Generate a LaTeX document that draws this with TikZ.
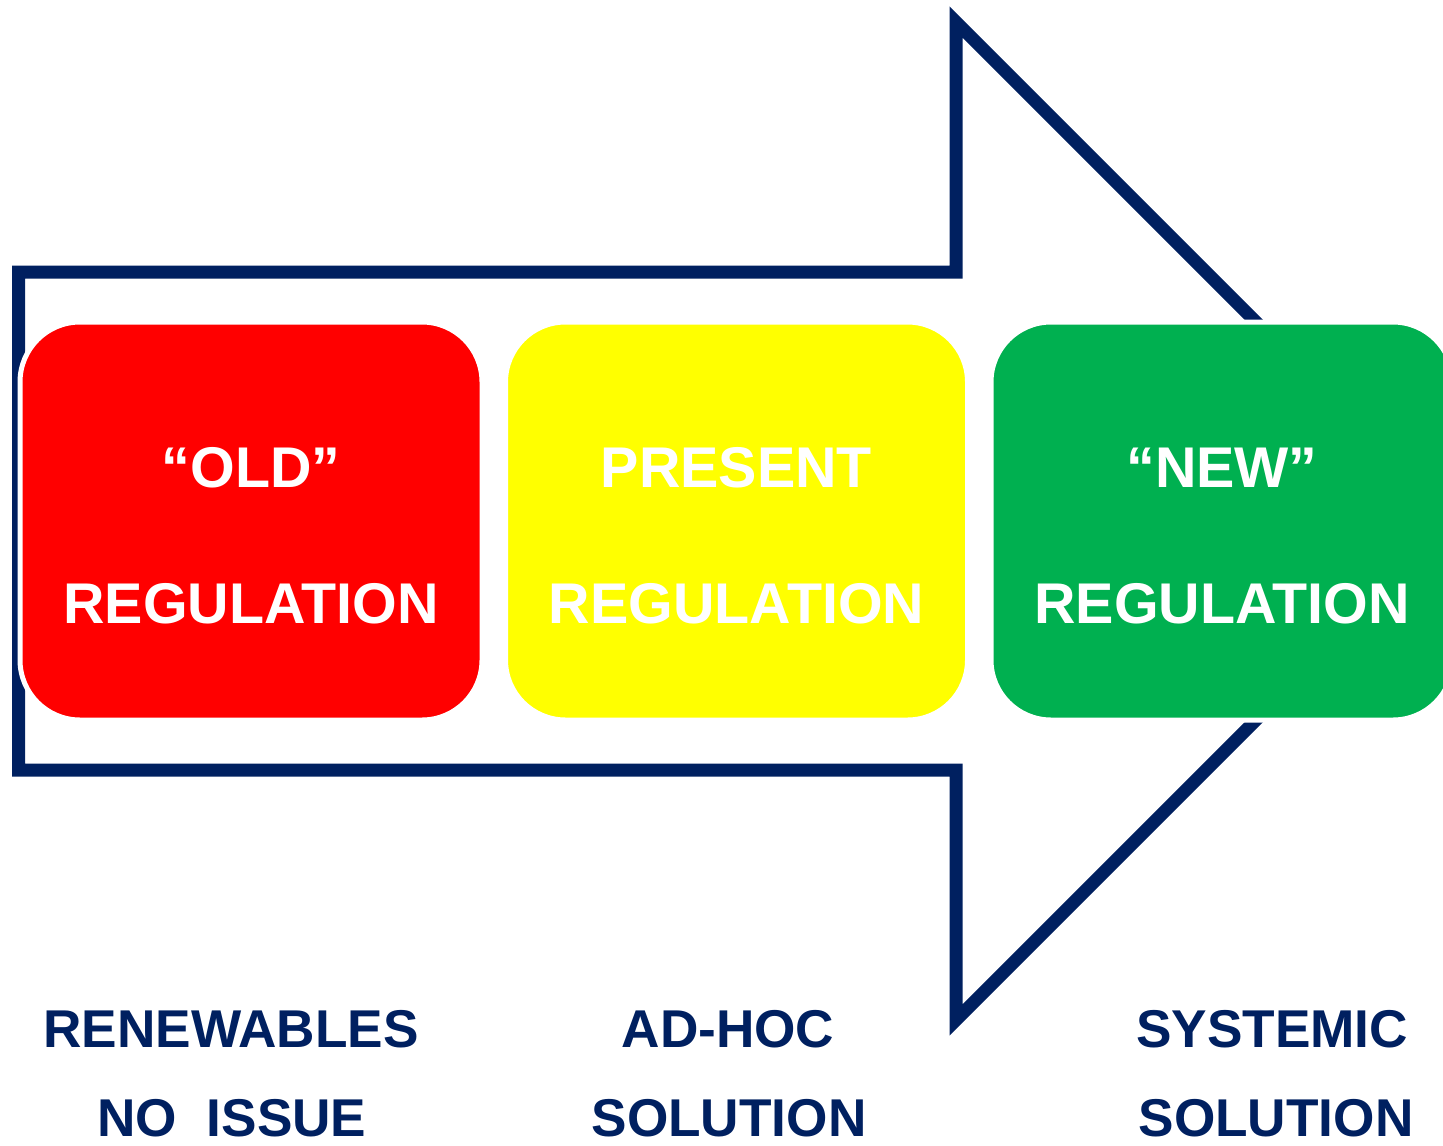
\documentclass[tikz,border=0pt]{standalone}
\usepackage{fontspec}
\setmainfont{Liberation Sans}
\definecolor{navy}{HTML}{002060}
\definecolor{regred}{HTML}{FF0000}
\definecolor{regyellow}{HTML}{FFFF00}
\definecolor{reggreen}{HTML}{00B050}

\begin{document}
\begin{tikzpicture}[x=0.5pt,y=-0.5pt,
        regbox/.style={draw=white,line width=2.5pt,rounded corners=30pt,minimum width=231pt,minimum height=199pt,inner sep=0pt},
        boxtext/.style={anchor=base,text=white,inner sep=0pt,font=\fontsize{28.7}{34}\selectfont\bfseries},
        steptext/.style={anchor=base,text=navy,inner sep=0pt,font=\fontsize{26.6}{32}\selectfont\bfseries}]
        \useasboundingbox (0,0) rectangle (1443,1145);
        % big outline arrow
        \draw[color=navy,line width=6.5pt,miter limit=10](18.5,272)--(956,272)--(956,22)--(1455,521)--(956,1020)--(956,770)--(18.5,770)--cycle;
        % the three regulation boxes
        \node[regbox,fill=regred] (old) at (251,521){};
        \node[regbox,fill=regyellow] (present) at (736.5,521){};
        \node[regbox,fill=reggreen] (new) at (1222,521){};
        \node[boxtext] (oldA) at (251,487){“OLD”};
        \node[boxtext] (oldB) at (251,623){REGULATION};
        \node[boxtext] (presentA) at (736.5,487){PRESENT};
        \node[boxtext] (presentB) at (736.5,623){REGULATION};
        \node[boxtext] (newA) at (1222,487){“NEW”};
        \node[boxtext] (newB) at (1222,623){REGULATION};
        % captions below
        \node[steptext] (renewA) at (231,1047){RENEWABLES};
        \node[steptext] (renewB) at (232,1136){NO\ \ ISSUE};
        \node[steptext] (adhocA) at (728,1047){AD-HOC};
        \node[steptext] (adhocB) at (729,1136){SOLUTION};
        \node[steptext] (systA) at (1272,1047){SYSTEMIC};
        \node[steptext] (systB) at (1276,1136){SOLUTION};
    \end{tikzpicture}
\end{document}
